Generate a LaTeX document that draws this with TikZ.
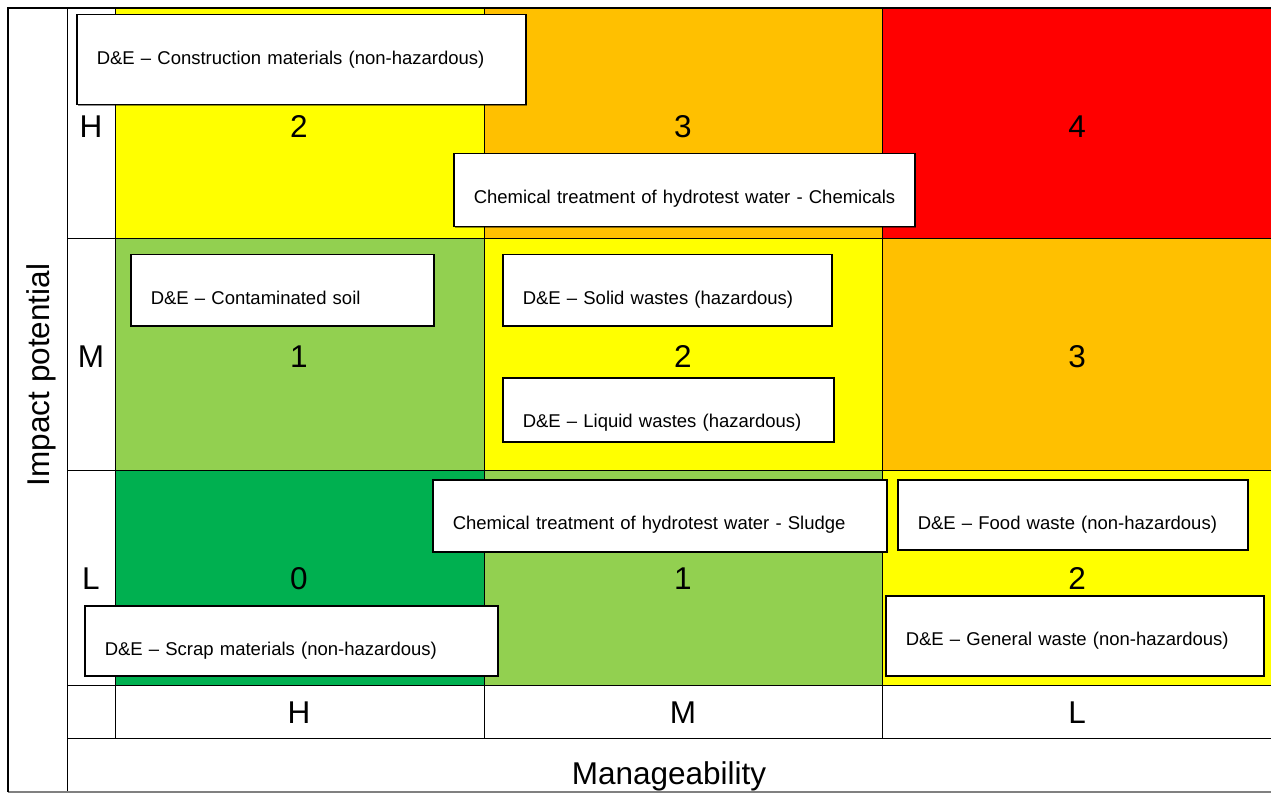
\documentclass[tikz,border=0pt]{standalone}
\usepackage{fontspec}
\setmainfont{Liberation Sans}
\usetikzlibrary{shadows}
\definecolor{riskred}{RGB}{255,0,0}
\definecolor{riskorange}{RGB}{255,192,0}
\definecolor{riskyellow}{RGB}{255,255,0}
\definecolor{risklime}{RGB}{146,208,80}
\definecolor{riskgreen}{RGB}{0,176,80}
\tikzset{
	bigtext/.style={anchor=base, font=\fontsize{31.5}{36}\selectfont},
	riskbox/.style={draw=black, line width=1.5pt, fill=white, anchor=north west, inner xsep=20pt, inner ysep=0pt, text height=49.5pt, align=left, font=\fontsize{18.5}{22}\selectfont, drop shadow={shadow xshift=1.5pt, shadow yshift=-1.5pt, fill=black, opacity=0.45}}
}
\begin{document}
\begin{tikzpicture}[x=1pt, y=-1pt]
			\useasboundingbox (0,0) rectangle (1271,794);
			% coloured cells
			\fill[riskyellow] (115,8) rectangle (484,239);
			\fill[riskorange] (484,8) rectangle (882,239);
			\fill[riskred] (882,8) rectangle (1271,239);
			\fill[risklime] (115,239) rectangle (484,470);
			\fill[riskyellow] (484,239) rectangle (882,470);
			\fill[riskorange] (882,239) rectangle (1271,470);
			\fill[riskgreen] (115,470) rectangle (484,685);
			\fill[risklime] (484,470) rectangle (882,685);
			\fill[riskyellow] (882,470) rectangle (1271,685);
			% grid
			\draw[line width=1pt] (67,239) -- (1271,239);
			\draw[line width=1pt] (67,470) -- (1271,470);
			\draw[line width=1pt] (67,685) -- (1271,685);
			\draw[line width=1pt] (67,738) -- (1271,738);
			\draw[line width=1pt] (115,8) -- (115,738);
			\draw[line width=1pt] (484,8) -- (484,738);
			\draw[line width=1pt] (882,8) -- (882,738);
			\draw[line width=1pt] (67,8) -- (67,792);
			\draw[gray, line width=2pt] (8,792) -- (1271,792);
			\draw[line width=2.5pt] (8,792) -- (8,8) -- (1271,8);
			% row and column labels
			\node[bigtext] (rowH) at (91,138) {H};
			\node[bigtext] (rowM) at (91,367) {M};
			\node[bigtext] (rowL) at (91,589) {L};
			\node[bigtext] (colH) at (299,723) {H};
			\node[bigtext] (colM) at (683,723) {M};
			\node[bigtext] (colL) at (1077,723) {L};
			\node[bigtext] (manage) at (669,784) {Manageability};
			\node[bigtext, rotate=90] (impact) at (49.5,375) {Impact potential};
			% risk scores
			\node[bigtext] (scoreHH) at (299,138) {2};
			\node[bigtext] (scoreHM) at (683,138) {3};
			\node[bigtext] (scoreHL) at (1077,138) {4};
			\node[bigtext] (scoreMH) at (299,367) {1};
			\node[bigtext] (scoreMM) at (683,367) {2};
			\node[bigtext] (scoreML) at (1077,367) {3};
			\node[bigtext] (scoreLH) at (299,589) {0};
			\node[bigtext] (scoreLM) at (683,589) {1};
			\node[bigtext] (scoreLL) at (1077,589) {2};
			% aspects
			\node[riskbox, text width=409pt, text depth=40.5pt] (construction) at (76,14) {D\&E -- Construction materials (non-hazardous)};
			\node[riskbox, text width=421pt, text depth=23.5pt] (chemicals) at (453,153) {\mbox{Chemical treatment of hydrotest water - Chemicals}};
			\node[riskbox, text width=263pt, text depth=21.5pt] (soil) at (130,254) {D\&E -- Contaminated soil};
			\node[riskbox, text width=289pt, text depth=21.5pt] (solid) at (502,254) {D\&E -- Solid wastes (hazardous)};
			\node[riskbox, text width=291pt, text depth=14.5pt] (liquid) at (502,377) {D\&E -- Liquid wastes (hazardous)};
			\node[riskbox, text width=414pt, text depth=22.5pt] (sludge) at (432,479) {Chemical treatment of hydrotest water - Sludge};
			\node[riskbox, text width=310pt, text depth=20.5pt] (food) at (897,479) {D\&E -- Food waste (non-hazardous)};
			\node[riskbox, text width=338pt, text depth=30.5pt] (general) at (885,595) {D\&E -- General waste (non-hazardous)};
			\node[riskbox, text width=373pt, text depth=20.5pt] (scrap) at (84,605) {D\&E -- Scrap materials (non-hazardous)};
		\end{tikzpicture}
\end{document}
